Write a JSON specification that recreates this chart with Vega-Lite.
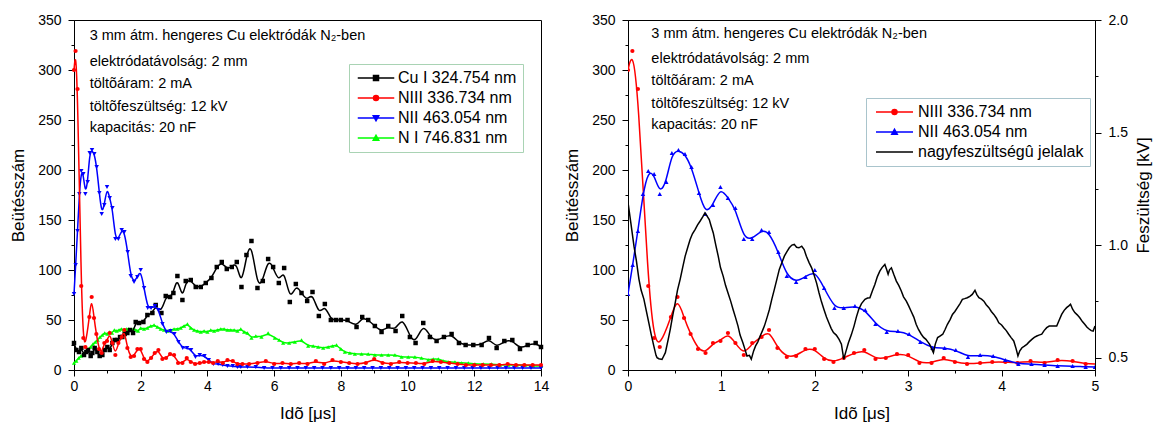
{
  "$schema": "https://vega.github.io/schema/vega-lite/v6.json",
  "padding": {"left": 9, "top": 12, "right": 5, "bottom": 0},
  "config": {
    "font": "Liberation Sans",
    "view": {"stroke": "black", "strokeWidth": 1},
    "axis": {"domainColor": "black", "tickColor": "black", "labelColor": "black", "titleColor": "black", "labelFontSize": 14, "titleFontSize": 17, "titleFontWeight": "normal", "labelFont": "Liberation Sans", "titleFont": "Liberation Sans", "grid": false, "labelFlush": false, "labelOverlap": false, "tickWidth": 1, "domainWidth": 1},
    "text": {"font": "Liberation Sans"}
  },
  "resolve": {"scale": {"color": "independent"}, "legend": {"color": "independent"}},
  "spacing": 13,
  "datasets": {
    "red": [{"t":0,"v":300},{"t":0.047,"v":319},{"t":0.106,"v":281},{"t":0.217,"v":84},{"t":0.28,"v":32},{"t":0.34,"v":23},{"t":0.46,"v":53},{"t":0.53,"v":73},{"t":0.6,"v":52},{"t":0.67,"v":36},{"t":0.75,"v":21},{"t":0.83,"v":17},{"t":0.91,"v":27},{"t":0.99,"v":29},{"t":1.07,"v":37},{"t":1.15,"v":27},{"t":1.24,"v":15},{"t":1.33,"v":27},{"t":1.43,"v":33},{"t":1.51,"v":40},{"t":1.6,"v":22},{"t":1.7,"v":13},{"t":1.8,"v":14},{"t":1.9,"v":21},{"t":2.0,"v":21},{"t":2.1,"v":11},{"t":2.2,"v":8},{"t":2.31,"v":12},{"t":2.42,"v":17},{"t":2.53,"v":20},{"t":2.65,"v":11},{"t":2.76,"v":12},{"t":2.88,"v":16},{"t":3.0,"v":15},{"t":3.12,"v":7},{"t":3.25,"v":7},{"t":3.38,"v":12},{"t":3.5,"v":8},{"t":3.63,"v":6},{"t":3.77,"v":7},{"t":3.9,"v":8},{"t":4.04,"v":8},{"t":4.17,"v":7},{"t":4.31,"v":9},{"t":4.46,"v":7},{"t":4.6,"v":10},{"t":4.76,"v":9},{"t":4.9,"v":6},{"t":5.05,"v":6},{"t":5.25,"v":6},{"t":5.5,"v":7},{"t":5.75,"v":9},{"t":6.0,"v":6},{"t":6.25,"v":7},{"t":6.5,"v":6},{"t":6.75,"v":7},{"t":7.0,"v":6},{"t":7.25,"v":9},{"t":7.5,"v":6},{"t":7.75,"v":10},{"t":8.0,"v":8},{"t":8.25,"v":7},{"t":8.5,"v":6},{"t":8.75,"v":7},{"t":9.0,"v":11},{"t":9.25,"v":7},{"t":9.5,"v":6},{"t":9.75,"v":8},{"t":10.0,"v":7},{"t":10.25,"v":7},{"t":10.5,"v":6},{"t":10.75,"v":9},{"t":11.0,"v":8},{"t":11.25,"v":7},{"t":11.5,"v":6},{"t":11.75,"v":5},{"t":12.0,"v":5},{"t":12.25,"v":5},{"t":12.5,"v":5},{"t":12.75,"v":5},{"t":13.0,"v":6},{"t":13.25,"v":5},{"t":13.5,"v":5},{"t":13.75,"v":5},{"t":14.0,"v":5}],
    "blue": [{"t":0,"v":76},{"t":0.05,"v":105},{"t":0.106,"v":139},{"t":0.16,"v":176},{"t":0.217,"v":199},{"t":0.28,"v":196},{"t":0.34,"v":176},{"t":0.41,"v":188},{"t":0.47,"v":217},{"t":0.54,"v":220},{"t":0.61,"v":216},{"t":0.68,"v":203},{"t":0.76,"v":177},{"t":0.83,"v":156},{"t":0.91,"v":165},{"t":0.99,"v":183},{"t":1.07,"v":172},{"t":1.15,"v":162},{"t":1.24,"v":131},{"t":1.33,"v":131},{"t":1.43,"v":140},{"t":1.51,"v":138},{"t":1.61,"v":118},{"t":1.7,"v":94},{"t":1.8,"v":88},{"t":1.9,"v":93},{"t":2.0,"v":100},{"t":2.1,"v":82},{"t":2.21,"v":62},{"t":2.31,"v":62},{"t":2.43,"v":64},{"t":2.54,"v":60},{"t":2.65,"v":46},{"t":2.77,"v":38},{"t":2.89,"v":39},{"t":3.01,"v":36},{"t":3.13,"v":28},{"t":3.26,"v":22},{"t":3.39,"v":22},{"t":3.51,"v":20},{"t":3.64,"v":13},{"t":3.77,"v":15},{"t":3.91,"v":14},{"t":4.04,"v":10},{"t":4.18,"v":6},{"t":4.32,"v":6},{"t":4.46,"v":5},{"t":4.6,"v":4},{"t":4.76,"v":4},{"t":4.9,"v":3},{"t":5.0,"v":3},{"t":5.2,"v":3},{"t":5.45,"v":3},{"t":5.7,"v":2},{"t":5.95,"v":2},{"t":6.2,"v":2},{"t":6.45,"v":2},{"t":6.7,"v":2},{"t":6.95,"v":2},{"t":7.2,"v":2},{"t":7.45,"v":2},{"t":7.7,"v":2},{"t":7.95,"v":2},{"t":8.2,"v":2},{"t":8.45,"v":2},{"t":8.7,"v":2},{"t":8.95,"v":2},{"t":9.2,"v":2},{"t":9.45,"v":2},{"t":9.7,"v":2},{"t":9.95,"v":2},{"t":10.2,"v":2},{"t":10.45,"v":2},{"t":10.7,"v":2},{"t":10.95,"v":2},{"t":11.2,"v":2},{"t":11.45,"v":2},{"t":11.7,"v":2},{"t":11.95,"v":2},{"t":12.2,"v":2},{"t":12.45,"v":2},{"t":12.7,"v":2},{"t":12.95,"v":2},{"t":13.2,"v":2},{"t":13.45,"v":2},{"t":13.7,"v":2},{"t":14.0,"v":2}],
    "cu": [{"t":0,"v":27},{"t":0.07,"v":20},{"t":0.15,"v":18},{"t":0.22,"v":22},{"t":0.3,"v":15},{"t":0.37,"v":18},{"t":0.42,"v":20},{"t":0.5,"v":14},{"t":0.55,"v":17},{"t":0.62,"v":22},{"t":0.7,"v":18},{"t":0.77,"v":14},{"t":0.85,"v":15},{"t":0.92,"v":20},{"t":1.0,"v":23},{"t":1.07,"v":20},{"t":1.15,"v":27},{"t":1.22,"v":30},{"t":1.3,"v":30},{"t":1.38,"v":33},{"t":1.45,"v":33},{"t":1.52,"v":36},{"t":1.6,"v":37},{"t":1.68,"v":40},{"t":1.77,"v":37},{"t":1.85,"v":48},{"t":1.95,"v":47},{"t":2.08,"v":48},{"t":2.2,"v":55},{"t":2.35,"v":57},{"t":2.45,"v":65},{"t":2.62,"v":57},{"t":2.75,"v":74},{"t":2.88,"v":73},{"t":2.98,"v":77},{"t":3.1,"v":94},{"t":3.25,"v":70},{"t":3.35,"v":89},{"t":3.5,"v":90},{"t":3.65,"v":83},{"t":3.8,"v":83},{"t":3.95,"v":87},{"t":4.12,"v":92},{"t":4.28,"v":103},{"t":4.43,"v":108},{"t":4.58,"v":101},{"t":4.73,"v":103},{"t":4.88,"v":108},{"t":5.02,"v":83},{"t":5.17,"v":115},{"t":5.32,"v":129},{"t":5.5,"v":82},{"t":5.66,"v":89},{"t":5.82,"v":111},{"t":5.97,"v":103},{"t":6.14,"v":87},{"t":6.3,"v":102},{"t":6.47,"v":68},{"t":6.65,"v":86},{"t":6.82,"v":77},{"t":6.99,"v":69},{"t":7.15,"v":78},{"t":7.34,"v":54},{"t":7.52,"v":66},{"t":7.7,"v":50},{"t":7.85,"v":50},{"t":8.0,"v":50},{"t":8.2,"v":50},{"t":8.47,"v":43},{"t":8.64,"v":53},{"t":8.82,"v":50},{"t":9.02,"v":44},{"t":9.22,"v":38},{"t":9.42,"v":44},{"t":9.64,"v":39},{"t":9.84,"v":54},{"t":10.07,"v":33},{"t":10.24,"v":27},{"t":10.47,"v":47},{"t":10.67,"v":33},{"t":10.87,"v":29},{"t":11.09,"v":33},{"t":11.32,"v":36},{"t":11.54,"v":27},{"t":11.74,"v":25},{"t":11.97,"v":25},{"t":12.22,"v":25},{"t":12.44,"v":32},{"t":12.67,"v":22},{"t":12.9,"v":29},{"t":13.14,"v":30},{"t":13.37,"v":21},{"t":13.6,"v":25},{"t":13.84,"v":27},{"t":14.0,"v":23}],
    "green": [{"t":0,"v":7},{"t":0.07,"v":9},{"t":0.14,"v":12},{"t":0.21,"v":14},{"t":0.28,"v":16},{"t":0.35,"v":18},{"t":0.42,"v":21},{"t":0.5,"v":23},{"t":0.57,"v":26},{"t":0.64,"v":28},{"t":0.71,"v":30},{"t":0.78,"v":33},{"t":0.85,"v":35},{"t":0.92,"v":37},{"t":1.0,"v":36},{"t":1.07,"v":38},{"t":1.14,"v":37},{"t":1.21,"v":40},{"t":1.28,"v":39},{"t":1.35,"v":40},{"t":1.42,"v":41},{"t":1.5,"v":40},{"t":1.57,"v":41},{"t":1.64,"v":41},{"t":1.71,"v":40},{"t":1.78,"v":41},{"t":1.85,"v":40},{"t":1.92,"v":39},{"t":2.0,"v":42},{"t":2.1,"v":41},{"t":2.2,"v":42},{"t":2.3,"v":44},{"t":2.4,"v":45},{"t":2.5,"v":43},{"t":2.6,"v":41},{"t":2.7,"v":40},{"t":2.8,"v":39},{"t":2.9,"v":40},{"t":3.0,"v":41},{"t":3.1,"v":41},{"t":3.2,"v":42},{"t":3.3,"v":44},{"t":3.4,"v":46},{"t":3.5,"v":42},{"t":3.6,"v":40},{"t":3.7,"v":39},{"t":3.8,"v":38},{"t":3.9,"v":39},{"t":4.0,"v":38},{"t":4.1,"v":40},{"t":4.2,"v":39},{"t":4.3,"v":40},{"t":4.4,"v":41},{"t":4.5,"v":41},{"t":4.6,"v":40},{"t":4.7,"v":40},{"t":4.8,"v":40},{"t":4.9,"v":39},{"t":5.0,"v":41},{"t":5.1,"v":38},{"t":5.2,"v":37},{"t":5.32,"v":32},{"t":5.45,"v":34},{"t":5.62,"v":33},{"t":5.82,"v":37},{"t":6.02,"v":32},{"t":6.15,"v":30},{"t":6.27,"v":27},{"t":6.45,"v":27},{"t":6.62,"v":28},{"t":6.82,"v":30},{"t":7.02,"v":24},{"t":7.17,"v":24},{"t":7.32,"v":23},{"t":7.47,"v":22},{"t":7.62,"v":23},{"t":7.75,"v":24},{"t":7.87,"v":25},{"t":8.0,"v":21},{"t":8.12,"v":18},{"t":8.27,"v":17},{"t":8.42,"v":16},{"t":8.62,"v":16},{"t":8.82,"v":16},{"t":9.02,"v":15},{"t":9.22,"v":15},{"t":9.42,"v":15},{"t":9.62,"v":15},{"t":9.82,"v":13},{"t":10.02,"v":13},{"t":10.22,"v":13},{"t":10.42,"v":12},{"t":10.62,"v":10},{"t":10.77,"v":11},{"t":10.92,"v":11},{"t":11.07,"v":9},{"t":11.22,"v":8},{"t":11.42,"v":8},{"t":11.62,"v":7},{"t":11.82,"v":7},{"t":12.02,"v":6},{"t":12.27,"v":6},{"t":12.52,"v":6},{"t":12.77,"v":5},{"t":13.02,"v":5},{"t":13.27,"v":5},{"t":13.52,"v":5},{"t":13.77,"v":4},{"t":14.0,"v":4}],
    "hv": [{"t":0,"k":1.19},{"t":0.03,"k":1.1},{"t":0.064,"k":0.995},{"t":0.09,"k":0.93},{"t":0.117,"k":0.849},{"t":0.14,"k":0.8},{"t":0.17,"k":0.76},{"t":0.2,"k":0.7},{"t":0.223,"k":0.654},{"t":0.25,"k":0.6},{"t":0.276,"k":0.552},{"t":0.3,"k":0.51},{"t":0.311,"k":0.5},{"t":0.33,"k":0.495},{"t":0.364,"k":0.492},{"t":0.38,"k":0.505},{"t":0.4,"k":0.522},{"t":0.43,"k":0.58},{"t":0.453,"k":0.627},{"t":0.48,"k":0.69},{"t":0.506,"k":0.744},{"t":0.53,"k":0.8},{"t":0.559,"k":0.849},{"t":0.585,"k":0.9},{"t":0.612,"k":0.951},{"t":0.64,"k":0.99},{"t":0.665,"k":1.025},{"t":0.69,"k":1.05},{"t":0.718,"k":1.069},{"t":0.745,"k":1.09},{"t":0.771,"k":1.106},{"t":0.8,"k":1.125},{"t":0.824,"k":1.143},{"t":0.845,"k":1.13},{"t":0.87,"k":1.113},{"t":0.89,"k":1.085},{"t":0.913,"k":1.054},{"t":0.94,"k":1.0},{"t":0.966,"k":0.951},{"t":0.99,"k":0.9},{"t":1.019,"k":0.862},{"t":1.045,"k":0.82},{"t":1.07,"k":0.788},{"t":1.1,"k":0.75},{"t":1.125,"k":0.714},{"t":1.15,"k":0.68},{"t":1.178,"k":0.64},{"t":1.2,"k":0.6},{"t":1.23,"k":0.566},{"t":1.25,"k":0.54},{"t":1.274,"k":0.507},{"t":1.3,"k":0.51},{"t":1.32,"k":0.493},{"t":1.345,"k":0.53},{"t":1.366,"k":0.552},{"t":1.39,"k":0.57},{"t":1.415,"k":0.596},{"t":1.44,"k":0.62},{"t":1.46,"k":0.64},{"t":1.49,"k":0.68},{"t":1.514,"k":0.714},{"t":1.54,"k":0.76},{"t":1.567,"k":0.803},{"t":1.595,"k":0.85},{"t":1.62,"k":0.892},{"t":1.65,"k":0.925},{"t":1.674,"k":0.951},{"t":1.7,"k":0.97},{"t":1.727,"k":0.988},{"t":1.755,"k":1.0},{"t":1.78,"k":1.003},{"t":1.805,"k":0.99},{"t":1.83,"k":0.988},{"t":1.86,"k":0.995},{"t":1.886,"k":0.98},{"t":1.91,"k":0.95},{"t":1.94,"k":0.921},{"t":1.965,"k":0.9},{"t":1.99,"k":0.87},{"t":2.02,"k":0.83},{"t":2.045,"k":0.788},{"t":2.07,"k":0.75},{"t":2.098,"k":0.714},{"t":2.125,"k":0.68},{"t":2.15,"k":0.655},{"t":2.175,"k":0.63},{"t":2.2,"k":0.611},{"t":2.23,"k":0.6},{"t":2.26,"k":0.581},{"t":2.285,"k":0.56},{"t":2.31,"k":0.493},{"t":2.335,"k":0.53},{"t":2.36,"k":0.566},{"t":2.39,"k":0.6},{"t":2.42,"k":0.64},{"t":2.445,"k":0.68},{"t":2.47,"k":0.714},{"t":2.5,"k":0.74},{"t":2.537,"k":0.759},{"t":2.565,"k":0.765},{"t":2.59,"k":0.766},{"t":2.62,"k":0.8},{"t":2.643,"k":0.825},{"t":2.67,"k":0.86},{"t":2.696,"k":0.884},{"t":2.72,"k":0.9},{"t":2.75,"k":0.914},{"t":2.77,"k":0.89},{"t":2.785,"k":0.87},{"t":2.8,"k":0.89},{"t":2.82,"k":0.899},{"t":2.845,"k":0.87},{"t":2.873,"k":0.84},{"t":2.9,"k":0.82},{"t":2.926,"k":0.796},{"t":2.95,"k":0.77},{"t":2.98,"k":0.751},{"t":3.005,"k":0.73},{"t":3.03,"k":0.707},{"t":3.06,"k":0.68},{"t":3.085,"k":0.648},{"t":3.11,"k":0.625},{"t":3.14,"k":0.604},{"t":3.165,"k":0.59},{"t":3.19,"k":0.581},{"t":3.21,"k":0.57},{"t":3.23,"k":0.559},{"t":3.25,"k":0.54},{"t":3.27,"k":0.522},{"t":3.29,"k":0.56},{"t":3.315,"k":0.589},{"t":3.34,"k":0.596},{"t":3.37,"k":0.604},{"t":3.395,"k":0.625},{"t":3.42,"k":0.648},{"t":3.45,"k":0.67},{"t":3.474,"k":0.692},{"t":3.5,"k":0.705},{"t":3.527,"k":0.722},{"t":3.555,"k":0.74},{"t":3.58,"k":0.759},{"t":3.605,"k":0.762},{"t":3.633,"k":0.766},{"t":3.66,"k":0.772},{"t":3.686,"k":0.781},{"t":3.715,"k":0.799},{"t":3.735,"k":0.78},{"t":3.757,"k":0.766},{"t":3.785,"k":0.76},{"t":3.81,"k":0.751},{"t":3.835,"k":0.735},{"t":3.864,"k":0.722},{"t":3.89,"k":0.705},{"t":3.917,"k":0.692},{"t":3.945,"k":0.675},{"t":3.97,"k":0.655},{"t":4.0,"k":0.645},{"t":4.023,"k":0.633},{"t":4.05,"k":0.62},{"t":4.076,"k":0.604},{"t":4.1,"k":0.59},{"t":4.13,"k":0.574},{"t":4.155,"k":0.54},{"t":4.175,"k":0.507},{"t":4.195,"k":0.53},{"t":4.218,"k":0.544},{"t":4.24,"k":0.55},{"t":4.27,"k":0.559},{"t":4.295,"k":0.57},{"t":4.324,"k":0.581},{"t":4.35,"k":0.59},{"t":4.377,"k":0.596},{"t":4.4,"k":0.6},{"t":4.43,"k":0.604},{"t":4.455,"k":0.62},{"t":4.483,"k":0.633},{"t":4.51,"k":0.64},{"t":4.536,"k":0.64},{"t":4.565,"k":0.64},{"t":4.59,"k":0.64},{"t":4.615,"k":0.665},{"t":4.643,"k":0.692},{"t":4.67,"k":0.71},{"t":4.696,"k":0.722},{"t":4.72,"k":0.73},{"t":4.738,"k":0.737},{"t":4.76,"k":0.715},{"t":4.784,"k":0.7},{"t":4.81,"k":0.69},{"t":4.837,"k":0.677},{"t":4.865,"k":0.66},{"t":4.89,"k":0.648},{"t":4.915,"k":0.635},{"t":4.94,"k":0.626},{"t":4.96,"k":0.62},{"t":4.98,"k":0.618},{"t":5.0,"k":0.64}],
    "annL": [{"t":0.47,"v":334,"txt":"3 mm átm. hengeres Cu elektródák N₂-ben"},{"t":0.47,"v":308,"txt":"elektródatávolság: 2 mm"},{"t":0.47,"v":286,"txt":"töltõáram: 2 mA"},{"t":0.47,"v":263,"txt":"töltõfeszültség: 12 kV"},{"t":0.47,"v":242,"txt":"kapacitás: 20 nF"}],
    "annR": [{"t":0.25,"v":336,"txt":"3 mm átm. hengeres Cu elektródák N₂-ben"},{"t":0.25,"v":311,"txt":"elektródatávolság: 2 mm"},{"t":0.25,"v":289,"txt":"töltõáram: 2 mA"},{"t":0.25,"v":266,"txt":"töltõfeszültség: 12 kV"},{"t":0.25,"v":245,"txt":"kapacitás: 20 nF"}]
  },
  "hconcat": [
    {
      "width": 467,
      "height": 350,
      "encoding": {
        "x": {"field": "t", "type": "quantitative", "scale": {"domain": [0, 14], "nice": false}, "axis": {"title": "Idõ [μs]", "values": [0,1,2,3,4,5,6,7,8,9,10,11,12,13,14], "labelExpr": "datum.value % 2 === 0 ? datum.label : ''", "tickSize": {"condition": {"test": "datum.value % 2 === 0", "value": 6}, "value": 3}, "labelPadding": 3, "titlePadding": 12}},
        "y": {"field": "v", "type": "quantitative", "scale": {"domain": [0, 350], "nice": false}, "axis": {"title": "Beütésszám", "values": [0,25,50,75,100,125,150,175,200,225,250,275,300,325,350], "labelExpr": "datum.value % 50 === 0 ? datum.label : ''", "tickSize": {"condition": {"test": "datum.value % 50 === 0", "value": 6}, "value": 3}, "labelPadding": 7, "titlePadding": 10}}
      },
      "layer": [
        {"data": {"name": "green"}, "mark": {"type": "line", "interpolate": "basis", "strokeWidth": 1.5},
         "encoding": {"color": {"datum": "N I 746.831 nm", "type": "nominal",
           "scale": {"domain": ["Cu I 324.754 nm", "NIII 336.734 nm", "NII 463.054 nm", "N I 746.831 nm"], "range": ["#000000", "#ff0000", "#0000ff", "#00ff00"]},
           "legend": {"orient": "none", "legendX": 275, "legendY": 44, "title": null, "symbolSize": 25, "symbolStrokeWidth": 1.5, "labelFontSize": 16, "labelFont": "Liberation Sans", "labelColor": "black", "labelLimit": 400, "labelOffset": 27, "rowPadding": 4, "padding": 6, "strokeColor": "#a9d3b4", "fillColor": "white",
             "encode": {"symbols": {"update": {
               "shape": [{"test": "datum.value === 'Cu I 324.754 nm'", "value": "M-2.1,0H12.5M4.2,-1H6.2V1H4.2Z"}, {"test": "datum.value === 'NIII 336.734 nm'", "value": "M-2.1,0H12.5M6.2,0A1,1,0,1,1,4.2,0A1,1,0,1,1,6.2,0Z"}, {"test": "datum.value === 'NII 463.054 nm'", "value": "M-2.1,0H12.5M4.1,-0.9H6.3L5.2,1.1Z"}, {"value": "M-2.1,0H12.5M4.1,0.9H6.3L5.2,-1.1Z"}],
               "fill": [{"test": "datum.value === 'Cu I 324.754 nm'", "value": "#000000"}, {"test": "datum.value === 'NIII 336.734 nm'", "value": "#ff0000"}, {"test": "datum.value === 'NII 463.054 nm'", "value": "#0000ff"}, {"value": "#00ff00"}],
               "stroke": [{"test": "datum.value === 'Cu I 324.754 nm'", "value": "#000000"}, {"test": "datum.value === 'NIII 336.734 nm'", "value": "#ff0000"}, {"test": "datum.value === 'NII 463.054 nm'", "value": "#0000ff"}, {"value": "#00ff00"}]
             }}}}}}},
        {"data": {"name": "green"}, "mark": {"type": "point", "shape": "triangle-up", "filled": true, "size": 18, "opacity": 1}, "encoding": {"color": {"datum": "N I 746.831 nm", "type": "nominal"}}},
        {"data": {"name": "cu"}, "mark": {"type": "line", "interpolate": "basis", "strokeWidth": 1.5}, "encoding": {"color": {"datum": "Cu I 324.754 nm", "type": "nominal"}}},
        {"data": {"name": "cu"}, "mark": {"type": "point", "shape": "square", "filled": true, "size": 20, "opacity": 1}, "encoding": {"color": {"datum": "Cu I 324.754 nm", "type": "nominal"}}},
        {"data": {"name": "blue"}, "mark": {"type": "line", "interpolate": "basis", "strokeWidth": 1.5}, "encoding": {"color": {"datum": "NII 463.054 nm", "type": "nominal"}}},
        {"data": {"name": "blue"}, "mark": {"type": "point", "shape": "triangle-down", "filled": true, "size": 20, "opacity": 1}, "encoding": {"color": {"datum": "NII 463.054 nm", "type": "nominal"}}},
        {"data": {"name": "red"}, "mark": {"type": "line", "interpolate": "basis", "strokeWidth": 1.5}, "encoding": {"color": {"datum": "NIII 336.734 nm", "type": "nominal"}}},
        {"data": {"name": "red"}, "mark": {"type": "point", "shape": "circle", "filled": true, "size": 18, "opacity": 1}, "encoding": {"color": {"datum": "NIII 336.734 nm", "type": "nominal"}}},
        {"data": {"name": "annL"}, "mark": {"type": "text", "align": "left", "baseline": "middle", "fontSize": 14.5, "color": "black"}, "encoding": {"text": {"field": "txt"}}}
      ]
    },
    {
      "width": 467,
      "height": 350,
      "resolve": {"scale": {"y": "independent"}},
      "layer": [
        {
          "encoding": {
            "x": {"field": "t", "type": "quantitative", "scale": {"domain": [0, 5], "nice": false}, "axis": {"title": "Idõ [μs]", "values": [0,0.5,1,1.5,2,2.5,3,3.5,4,4.5,5], "labelExpr": "datum.value % 1 === 0 ? format(datum.value, 'd') : ''", "tickSize": {"condition": {"test": "datum.value % 1 === 0", "value": 6}, "value": 3}, "labelPadding": 3, "titlePadding": 12}},
            "y": {"field": "v", "type": "quantitative", "scale": {"domain": [0, 350], "nice": false}, "axis": {"title": "Beütésszám", "values": [0,25,50,75,100,125,150,175,200,225,250,275,300,325,350], "labelExpr": "datum.value % 50 === 0 ? datum.label : ''", "tickSize": {"condition": {"test": "datum.value % 50 === 0", "value": 6}, "value": 3}, "labelPadding": 7, "titlePadding": 10}}
          },
          "layer": [
            {"data": {"name": "red"}, "mark": {"type": "line", "interpolate": "basis", "strokeWidth": 1.5, "clip": true},
             "encoding": {"color": {"datum": "NIII 336.734 nm", "type": "nominal",
               "scale": {"domain": ["NIII 336.734 nm", "NII 463.054 nm", "nagyfeszültségû jelalak"], "range": ["#ff0000", "#0000ff", "#000000"]},
               "legend": {"orient": "none", "legendX": 238, "legendY": 78, "title": null, "symbolSize": 25, "symbolStrokeWidth": 1.5, "labelFontSize": 16, "labelFont": "Liberation Sans", "labelColor": "black", "labelLimit": 400, "labelOffset": 30, "rowPadding": 4, "padding": 6, "strokeColor": "#a9c4cc", "fillColor": "white",
                 "encode": {"symbols": {"update": {
                   "shape": [{"test": "datum.value === 'NIII 336.734 nm'", "value": "M-1.6,0H13.2M6.8,0A1,1,0,1,1,4.8,0A1,1,0,1,1,6.8,0Z"}, {"test": "datum.value === 'NII 463.054 nm'", "value": "M-1.6,0H13.2M4.7,0.9H6.9L5.8,-1.1Z"}, {"value": "M-1.6,0H13.2"}],
                   "fill": [{"test": "datum.value === 'NIII 336.734 nm'", "value": "#ff0000"}, {"test": "datum.value === 'NII 463.054 nm'", "value": "#0000ff"}, {"value": "#000000"}],
                   "stroke": [{"test": "datum.value === 'NIII 336.734 nm'", "value": "#ff0000"}, {"test": "datum.value === 'NII 463.054 nm'", "value": "#0000ff"}, {"value": "#000000"}]
                 }}}}}}},
            {"data": {"name": "red"}, "mark": {"type": "point", "shape": "circle", "filled": true, "size": 18, "opacity": 1, "clip": true}, "encoding": {"color": {"datum": "NIII 336.734 nm", "type": "nominal"}}},
            {"data": {"name": "blue"}, "mark": {"type": "line", "interpolate": "basis", "strokeWidth": 1.5, "clip": true}, "encoding": {"color": {"datum": "NII 463.054 nm", "type": "nominal"}}},
            {"data": {"name": "blue"}, "mark": {"type": "point", "shape": "triangle-up", "filled": true, "size": 20, "opacity": 1, "clip": true}, "encoding": {"color": {"datum": "NII 463.054 nm", "type": "nominal"}}},
            {"data": {"name": "annR"}, "mark": {"type": "text", "align": "left", "baseline": "middle", "fontSize": 14.5, "color": "black"}, "encoding": {"text": {"field": "txt"}}}
          ]
        },
        {
          "data": {"name": "hv"},
          "mark": {"type": "line", "strokeWidth": 1.5, "clip": true},
          "encoding": {
            "x": {"field": "t", "type": "quantitative", "scale": {"domain": [0, 5], "nice": false}},
            "y": {"field": "k", "type": "quantitative", "scale": {"domain": [0.445, 2.0], "nice": false, "zero": false}, "axis": {"orient": "right", "title": "Feszültség [kV]", "values": [0.5,0.75,1,1.25,1.5,1.75,2], "labelExpr": "datum.value % 0.5 === 0 ? format(datum.value, '.1f') : ''", "tickSize": {"condition": {"test": "datum.value % 0.5 === 0", "value": 6}, "value": 3}, "labelPadding": 7, "titlePadding": 8, "titleAngle": -90, "titleBaseline": "top"}},
            "color": {"datum": "nagyfeszültségû jelalak", "type": "nominal"}
          }
        }
      ]
    }
  ]
}
